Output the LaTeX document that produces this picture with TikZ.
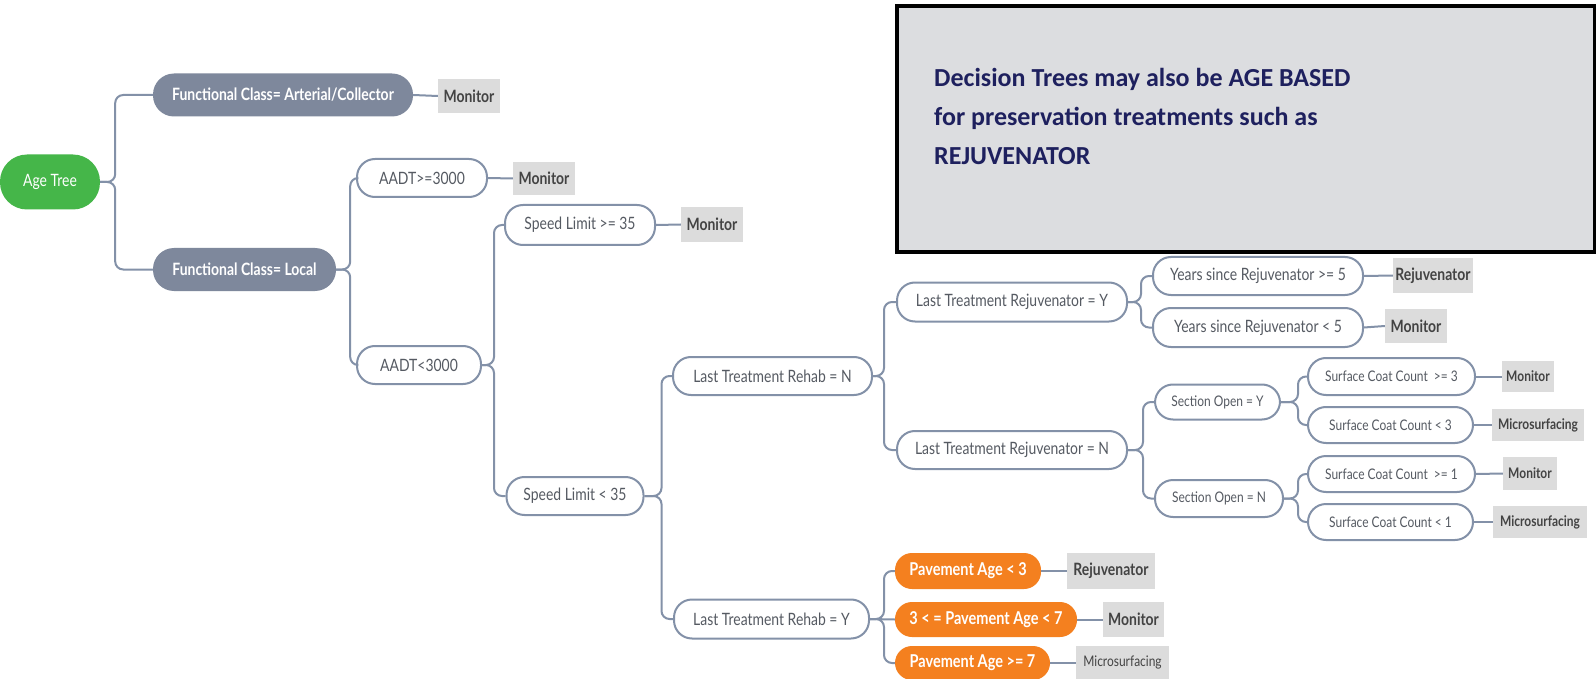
\documentclass[tikz,border=0pt]{standalone}
\usepackage{fontspec}
\setmainfont{Lato}[FakeStretch=0.82]
\newfontfamily\notefont{Carlito}
\definecolor{treegreen}{HTML}{45B649}
\definecolor{classgray}{HTML}{7E889C}
\definecolor{linegray}{HTML}{8391A8}
\definecolor{condtext}{HTML}{555A62}
\definecolor{ageorange}{HTML}{F4801F}
\definecolor{resgray}{HTML}{DCDCDC}
\definecolor{restext}{HTML}{434343}
\definecolor{notefill}{HTML}{DCDDE0}
\definecolor{notetext}{HTML}{1E205E}

\begin{document}
\begin{tikzpicture}[x=1pt, y=-1pt,
	every node/.style={inner sep=0pt, font=\fontsize{17}{19}\selectfont},
	root/.style={fill=treegreen, text=white, rounded corners=27pt, minimum width=100pt, minimum height=55pt},
	fclass/.style={fill=classgray, text=white, font=\fontsize{17}{19}\selectfont\bfseries, rounded corners=21pt, minimum height=43pt},
	cond/.style={draw=linegray, line width=2pt, fill=white, text=condtext, rounded corners=18pt, minimum height=38pt},
	smalltext/.style={font=\fontsize{14.6}{16}\selectfont},
	age/.style={fill=ageorange, text=white, font=\fontsize{17.7}{19}\selectfont\bfseries, rounded corners=17pt, minimum height=35pt},
	result/.style={fill=resgray, text=restext, font=\fontsize{17}{19}\selectfont\bfseries, minimum height=34pt},
	smallres/.style={result, font=\fontsize{14.6}{16}\selectfont\bfseries},
	link/.style={draw=linegray, line width=2pt, rounded corners=8pt}]
	\useasboundingbox (0,0) rectangle (1596,679);
	\fill[white] (0,0) rectangle (1596,679);

	% note box
	\node[draw=black, line width=4pt, fill=notefill, minimum width=698pt, minimum height=246pt, anchor=north west] (note) at (895,4) {};
	\node[anchor=west, align=left, text=notetext, font=\notefont\fontsize{26}{39}\selectfont\bfseries] (notetxt) at (934,116)
		{Decision Trees may also be AGE BASED\\for preservation treatments such as\\REJUVENATOR};

	% tree
	\node[root] (at) at (50,182) {Age Tree};
	\node[fclass, minimum width=260pt] (fa) at (283,95) {Functional Class= Arterial/Collector};
	\node[fclass, minimum width=183pt] (fl) at (244.5,269.5) {Functional Class= Local};
	\node[result, minimum width=62pt] (m1) at (469,96) {Monitor};

	\node[cond, minimum width=130pt] (aa) at (422,178) {AADT>=3000};
	\node[cond, minimum width=124pt] (ab) at (419,365) {AADT<3000};
	\node[result, minimum width=62pt, minimum height=33pt] (m2) at (544,178.5) {Monitor};

	\node[cond, minimum width=150pt, minimum height=40pt] (sa) at (580,225) {Speed Limit >= 35};
	\node[cond, minimum width=137pt] (sb) at (575,496) {Speed Limit < 35};
	\node[result, minimum width=62pt, minimum height=35pt] (m3) at (712,224.5) {Monitor};

	\node[cond, minimum width=199pt] (rn) at (772.5,376) {Last Treatment Rehab = N};
	\node[cond, minimum width=195pt, minimum height=39pt] (ry) at (771.5,619) {Last Treatment Rehab = Y};

	\node[cond, minimum width=230pt, minimum height=39pt] (jy) at (1012,302) {Last Treatment Rejuvenator = Y};
	\node[cond, minimum width=230pt] (jn) at (1012,450) {Last Treatment Rejuvenator = N};

	\node[cond, minimum width=210pt] (ya) at (1258,276) {Years since Rejuvenator >= 5};
	\node[cond, minimum width=210pt, minimum height=39pt] (yb) at (1258,327.5) {Years since Rejuvenator < 5};
	\node[result, minimum width=80pt, minimum height=35pt] (r1) at (1433,275.5) {Rejuvenator};
	\node[result, minimum width=62pt] (m4) at (1416,326) {Monitor};

	\node[cond, smalltext, minimum width=125pt, minimum height=35pt] (so) at (1217.5,402) {Section Open = Y};
	\node[cond, smalltext, minimum width=128pt, minimum height=37pt] (sn) at (1219,498.5) {Section Open = N};

	\node[cond, smalltext, minimum width=167pt, minimum height=37pt] (ca) at (1391.5,376.5) {Surface Coat Count\ \ >= 3};
	\node[cond, smalltext, minimum width=165pt, minimum height=36pt] (cb) at (1390.5,425) {Surface Coat Count < 3};
	\node[cond, smalltext, minimum width=167pt, minimum height=36pt] (cc) at (1391.5,474) {Surface Coat Count\ \ >= 1};
	\node[cond, smalltext, minimum width=165pt, minimum height=36pt] (cd) at (1390.5,522) {Surface Coat Count < 1};
	\node[smallres, minimum width=52pt, minimum height=31pt] (m5) at (1528,376.5) {Monitor};
	\node[smallres, minimum width=92pt, minimum height=32pt] (x1) at (1538,425) {Microsurfacing};
	\node[smallres, minimum width=54pt, minimum height=33pt] (m6) at (1530,473.5) {Monitor};
	\node[smallres, minimum width=94pt, minimum height=32pt] (x2) at (1540,522) {Microsurfacing};

	\node[age, minimum width=146pt, minimum height=36pt] (pa) at (968,571) {Pavement Age < 3};
	\node[age, minimum width=182pt] (pb) at (986,619.5) {3 < = Pavement Age < 7};
	\node[age, minimum width=155pt, minimum height=34pt] (pc) at (972.5,663) {Pavement Age >= 7};
	\node[result, minimum width=88pt, minimum height=36pt] (r2) at (1111,571) {Rejuvenator};
	\node[result, minimum width=61pt, minimum height=35pt] (m7) at (1133.5,619.5) {Monitor};
	\node[result, font=\fontsize{14.6}{16}\selectfont, minimum width=93pt] (x3) at (1122.5,663) {Microsurfacing};

	% connectors
	\draw[link] (at.east) -- ++(15,0) |- (fa.west);
	\draw[link] (at.east) -- ++(15,0) |- (fl.west);
	\draw[link] (fa.east) -- (m1.west);
	\draw[link] (fl.east) -- ++(14,0) |- (aa.west);
	\draw[link] (fl.east) -- ++(14,0) |- (ab.west);
	\draw[link] (aa.east) -- (m2.west);
	\draw[link] (ab.east) -- ++(12,0) |- (sa.west);
	\draw[link] (ab.east) -- ++(12,0) |- (sb.west);
	\draw[link] (sa.east) -- (m3.west);
	\draw[link] (sb.east) -- ++(17,0) |- (rn.west);
	\draw[link] (sb.east) -- ++(17,0) |- (ry.west);
	\draw[link] (rn.east) -- ++(11,0) |- (jy.west);
	\draw[link] (rn.east) -- ++(11,0) |- (jn.west);
	\draw[link] (ry.east) -- ++(14,0) |- (pa.west);
	\draw[link] (ry.east) -- (pb.west);
	\draw[link] (ry.east) -- ++(14,0) |- (pc.west);
	\draw[link] (jy.east) -- ++(13,0) |- (ya.west);
	\draw[link] (jy.east) -- ++(13,0) |- (yb.west);
	\draw[link] (jn.east) -- ++(15,0) |- (so.west);
	\draw[link] (jn.east) -- ++(15,0) |- (sn.west);
	\draw[link] (so.east) -- ++(17,0) |- (ca.west);
	\draw[link] (so.east) -- ++(17,0) |- (cb.west);
	\draw[link] (sn.east) -- ++(14,0) |- (cc.west);
	\draw[link] (sn.east) -- ++(14,0) |- (cd.west);
	\draw[link] (ya.east) -- (r1.west);
	\draw[link] (yb.east) -- (m4.west);
	\draw[link] (ca.east) -- (m5.west);
	\draw[link] (cb.east) -- (x1.west);
	\draw[link] (cc.east) -- (m6.west);
	\draw[link] (cd.east) -- (x2.west);
	\draw[link] (pa.east) -- (r2.west);
	\draw[link] (pb.east) -- (m7.west);
	\draw[link] (pc.east) -- (x3.west);
\end{tikzpicture}
\end{document}
